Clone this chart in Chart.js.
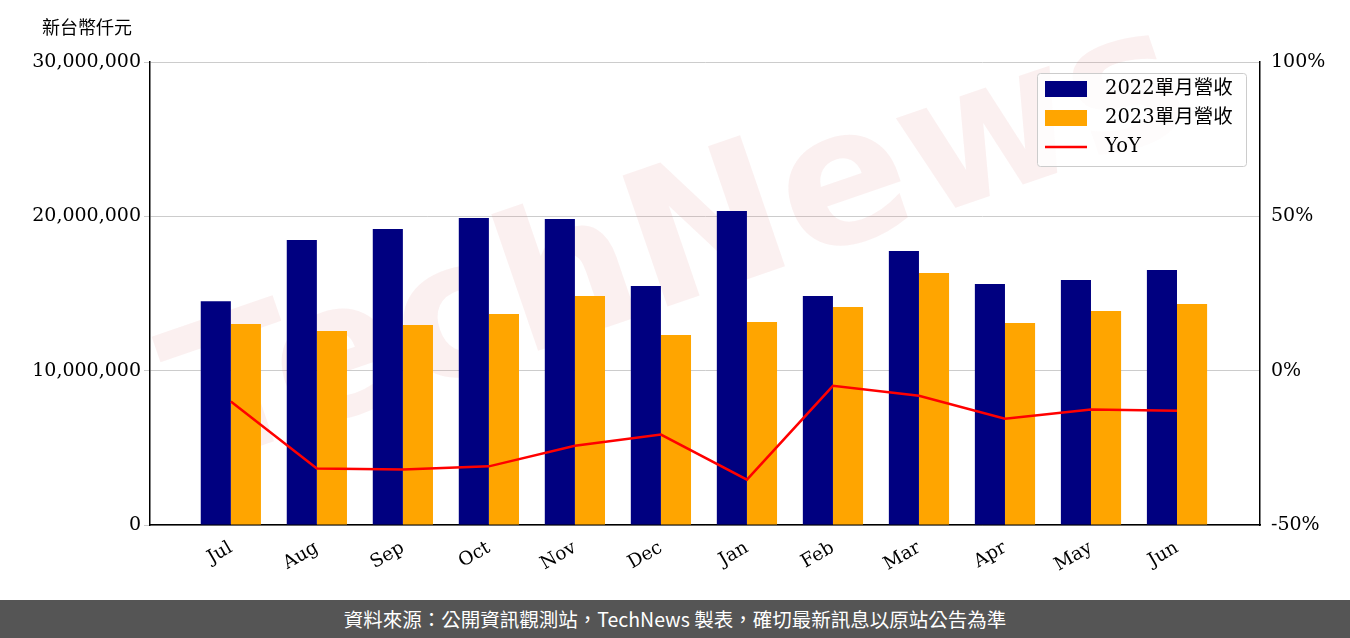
<!DOCTYPE html>
<html><head><meta charset="utf-8">
<script src="https://cdn.jsdelivr.net/npm/chart.js@4/dist/chart.umd.min.js"></script>
<style>
body{margin:0;background:#fff;width:1350px;height:638px;overflow:hidden}
#wrap{position:relative;width:1350px;height:600px}
#foot{position:absolute;left:0;top:600px;width:1350px;height:38px;background:#555;color:#fff;font:19.5px "Noto Sans CJK TC","Noto Sans",sans-serif;text-align:center;line-height:38px}
</style></head><body>
<div id="wrap"><canvas id="c" width="1350" height="600"></canvas></div>
<div id="foot">資料來源：公開資訊觀測站，TechNews 製表，確切最新訊息以原站公告為準</div>
<script>
const categories=['Jul','Aug','Sep','Oct','Nov','Dec','Jan','Feb','Mar','Apr','May','Jun'];
const rev2022=[14500000,18470000,19180000,19900000,19830000,15490000,20350000,14840000,17760000,15620000,15880000,16530000];
const rev2023=[13030000,12570000,12960000,13670000,14840000,12310000,13160000,14130000,16330000,13090000,13870000,14320000];
const yoy=[-10,-31.7,-32,-31,-24.3,-20.7,-35.3,-4.9,-8.1,-15.6,-12.6,-13];
const seriesNames=['2022單月營收','2023單月營收','YoY'];
const FONT='"DejaVu Serif","Noto Sans CJK TC",serif';
const pts=a=>a.map((v,i)=>({x:i,y:v}));
const extras={id:'extras',beforeDatasetsDraw(ch){
 const c=ch.ctx;c.save();
 c.translate(680,250);c.rotate(-0.33);c.font='bold 190px "DejaVu Sans",sans-serif';
 c.fillStyle='rgba(225,140,140,0.13)';c.textAlign='center';c.textBaseline='middle';c.fillText('TechNews',0,0);
 c.restore();},
 afterDraw(ch){const c=ch.ctx;c.save();
 c.font='18px "Noto Sans CJK TC",sans-serif';c.fillStyle='#000';c.textBaseline='middle';c.fillText('新台幣仟元',42,27);
 c.fillStyle='rgba(255,255,255,0.8)';c.strokeStyle='#ccc';c.lineWidth=1;
 c.beginPath();c.roundRect(1037.5,73.5,209,93,3);c.fill();c.stroke();
 const cols=['#000080','#FFA500','#FF0000'];
 c.font='19.5px '+FONT;
 for(let i=0;i<3;i++){const y=89+i*29;
  if(i<2){c.fillStyle=cols[i];c.fillRect(1045,y-8,42,16);}
  else{c.strokeStyle=cols[i];c.lineWidth=2.5;c.beginPath();c.moveTo(1045,y);c.lineTo(1087,y);c.stroke();}
  c.fillStyle='#000';c.fillText(seriesNames[i],1105,y);}
 c.restore();}};
new Chart(document.getElementById('c'),{
 data:{datasets:[
  {type:'line',label:seriesNames[2],data:pts(yoy),yAxisID:'y1',borderColor:'#FF0000',borderWidth:2.5,pointRadius:0,tension:0,order:0},
  {type:'bar',label:seriesNames[0],data:pts(rev2022),backgroundColor:'#000080',yAxisID:'y',categoryPercentage:0.7,barPercentage:1,order:1},
  {type:'bar',label:seriesNames[1],data:pts(rev2023),backgroundColor:'#FFA500',yAxisID:'y',categoryPercentage:0.7,barPercentage:1,order:1}]},
 options:{responsive:false,animation:false,layout:{padding:{top:62,bottom:0,left:0,right:0}},
  plugins:{legend:{display:false},tooltip:{enabled:false}},
  scales:{
   x:{type:'linear',offset:false,min:-0.94,max:11.965,grid:{display:false},border:{color:'#000',width:1.5},
      ticks:{color:'#000',font:{family:FONT,size:18.5},maxRotation:30,minRotation:30,padding:4,autoSkip:false,callback:v=>categories[v]},
      afterBuildTicks(s){s.ticks=categories.map((_,i)=>({value:i}));},afterFit(s){s.height=75;}},
   y:{position:'left',min:0,max:30000000,ticks:{stepSize:10000000,color:'#000',font:{family:FONT,size:19},callback:v=>v.toLocaleString('en-US')},grid:{color:'#ccc',drawTicks:true,tickLength:6},border:{color:'#000',width:1.5},afterFit(s){s.width=150;}},
   y1:{position:'right',min:-50,max:100,ticks:{stepSize:50,color:'#000',font:{family:FONT,size:19},callback:v=>v+'%'},grid:{display:false},border:{color:'#000',width:1.5},afterFit(s){s.width=90;}}
  }},
 plugins:[extras]});
</script></body></html>
